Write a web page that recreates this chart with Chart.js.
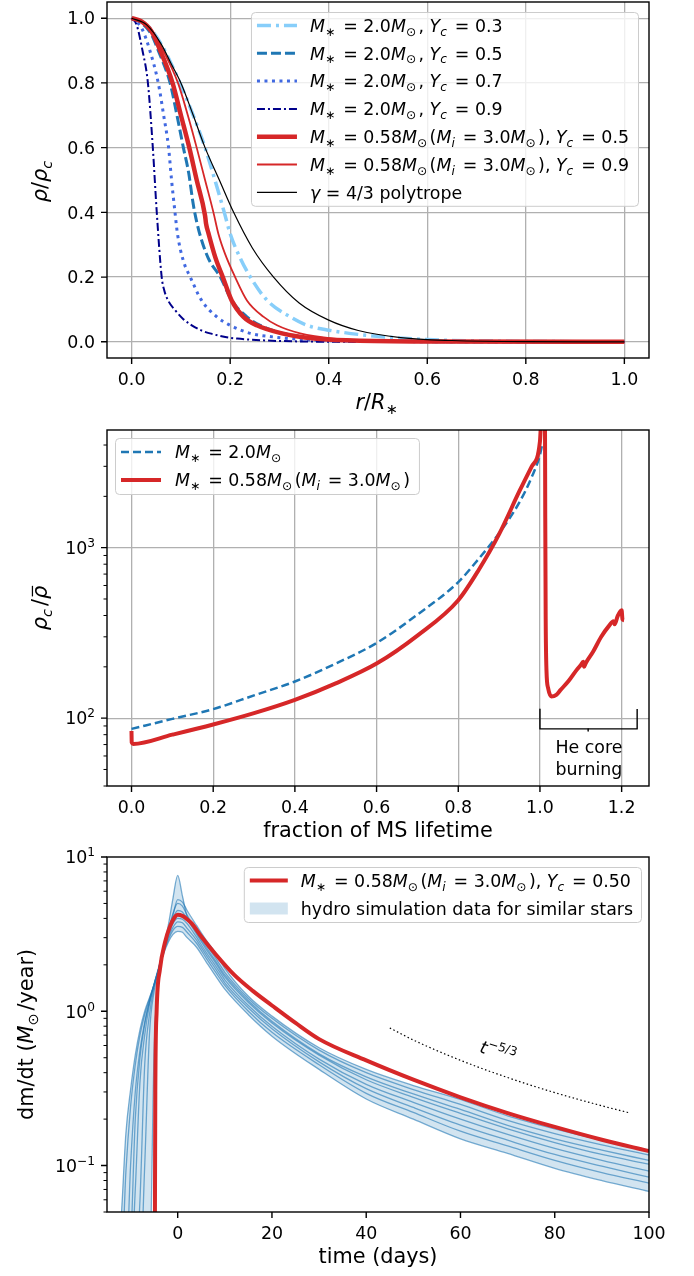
<!DOCTYPE html>
<html>
<head>
<meta charset="utf-8">
<script src="https://cdn.jsdelivr.net/npm/chart.js@4.4.0/dist/chart.umd.min.js"></script>
<style>
html, body { margin: 0; padding: 0; background: #fff; }
#fig { position: relative; width: 694px; height: 1276px; }
canvas { position: absolute; left: 0; }
</style>
</head>
<body>
<div id="fig">
  <canvas id="c1" width="694" height="420" style="top:0px"></canvas>
  <canvas id="c2" width="694" height="424" style="top:420px"></canvas>
  <canvas id="c3" width="694" height="432" style="top:844px"></canvas>
</div>
<script>
// ---- panel 1: density profiles rho/rho_c vs r/R* ----
var lbR    = [0, 0.03, 0.06, 0.08, 0.098, 0.125, 0.149, 0.169, 0.188, 0.2, 0.22, 0.241, 0.275, 0.322, 0.356, 0.4, 0.478, 0.6, 0.75, 1.0];
var lbRho  = [1.0, 0.98, 0.92, 0.86, 0.80, 0.70, 0.60, 0.50, 0.40, 0.334, 0.26, 0.20, 0.128, 0.077, 0.051, 0.036, 0.02, 0.007, 0.002, 0];
var dashR   = [0, 0.02, 0.04, 0.054, 0.078, 0.092, 0.105, 0.116, 0.124, 0.128, 0.137, 0.155, 0.18, 0.203, 0.234, 0.261, 0.308, 0.376, 0.5, 0.7, 1.0];
var dashRho = [1.0, 0.985, 0.95, 0.90, 0.80, 0.70, 0.60, 0.52, 0.435, 0.40, 0.34, 0.26, 0.20, 0.128, 0.077, 0.051, 0.026, 0.01, 0.002, 0.0003, 0];
var dotR   = [0, 0.02, 0.037, 0.054, 0.065, 0.075, 0.081, 0.088, 0.093, 0.105, 0.119, 0.142, 0.173, 0.2, 0.241, 0.288, 0.356, 0.45, 0.6, 1.0];
var dotRho = [1.0, 0.97, 0.90, 0.80, 0.70, 0.60, 0.50, 0.40, 0.334, 0.25, 0.20, 0.128, 0.077, 0.051, 0.026, 0.015, 0.006, 0.002, 0.0005, 0];
var navyR   = [0, 0.01, 0.022, 0.033, 0.043, 0.051, 0.061, 0.066, 0.075, 0.088, 0.105, 0.122, 0.14, 0.159, 0.19, 0.214, 0.275, 0.35, 0.5, 1.0];
var navyRho = [1.0, 0.98, 0.90, 0.80, 0.60, 0.40, 0.20, 0.16, 0.125, 0.098, 0.07, 0.051, 0.036, 0.026, 0.015, 0.01, 0.004, 0.001, 0, 0];
var redR   = [0, 0.02, 0.04, 0.058, 0.083, 0.1, 0.117, 0.132, 0.149, 0.151, 0.156, 0.17, 0.185, 0.203, 0.227, 0.254, 0.305, 0.37, 0.45, 0.6, 1.0];
var redRho = [1.0, 0.99, 0.96, 0.90, 0.80, 0.70, 0.60, 0.50, 0.39, 0.365, 0.335, 0.26, 0.20, 0.128, 0.077, 0.051, 0.026, 0.01, 0.004, 0.001, 0];
var thinR   = [0, 0.02, 0.04, 0.064, 0.094, 0.114, 0.132, 0.149, 0.166, 0.176, 0.19, 0.21, 0.234, 0.268, 0.295, 0.342, 0.41, 0.5, 0.65, 1.0];
var thinRho = [1.0, 0.99, 0.965, 0.90, 0.80, 0.70, 0.60, 0.50, 0.40, 0.334, 0.27, 0.20, 0.128, 0.077, 0.051, 0.026, 0.01, 0.004, 0.001, 0];
var polyR   = [0, 0.03, 0.06, 0.08, 0.1, 0.125, 0.149, 0.178, 0.207, 0.245, 0.288, 0.34, 0.4, 0.46, 0.546, 0.65, 0.8, 1.0];
var polyRho = [1.0, 0.98, 0.92, 0.86, 0.80, 0.70, 0.60, 0.50, 0.40, 0.29, 0.20, 0.12, 0.067, 0.035, 0.013, 0.004, 0.0005, 0];

// ---- panel 2: rho_c / rho_bar vs fraction of MS lifetime ----
var fracB = [0, 0.1, 0.2, 0.3, 0.4, 0.5, 0.6, 0.7, 0.8, 0.85, 0.9, 0.95, 0.98, 1.0, 1.006];
var ratioB = [86.5, 99, 113, 136, 164, 209, 276, 405, 628, 860, 1215, 1850, 2600, 3500, 4100];
var fracR = [0, 0.0005, 0.004, 0.1, 0.2, 0.3, 0.4, 0.5, 0.6, 0.7, 0.8, 0.85, 0.9, 0.95, 0.98, 1.0, 1.004, 1.008, 1.012, 1.013, 1.014, 1.016, 1.02, 1.028, 1.04, 1.05, 1.07, 1.09, 1.1, 1.106, 1.108, 1.112, 1.13, 1.15, 1.17, 1.18, 1.183, 1.19, 1.2, 1.202, 1.206];
var ratioR = [84, 72, 70.6, 80, 91.8, 107, 128, 160, 209, 305, 492, 740, 1200, 2150, 3000, 4200, 6500, 9000, 9000, 1500, 400, 190, 150, 134, 137, 146, 165, 192, 205, 214, 200, 210, 245, 300, 350, 370, 355, 395, 430, 380, 375];
var bracketX = [1.0, 1.0, 1.238, 1.238];
var bracketY = [113, 86.5, 86.5, 113];

// ---- panel 3: fallback rate vs time ----
var redT = [-4.9, -4.83, -4.75, -4.47, -3.77, -2.7, -1.64, -0.57, 0, 1, 2, 3, 5, 8, 12, 16, 20, 25, 30, 40, 50, 60, 70, 80, 90, 100];
var redRate = [0.02, 0.05, 0.3, 1.0, 1.87, 2.79, 3.55, 4.1, 4.22, 4.15, 3.95, 3.7, 3.05, 2.35, 1.72, 1.35, 1.09, 0.84, 0.66, 0.48, 0.36, 0.277, 0.219, 0.178, 0.147, 0.124];
var hydroT = [-13, -12, -11, -10, -9, -8, -7, -6, -5, -4, -3, -2, -1, 0, 1, 2, 4, 6, 8, 10, 15, 20, 30, 40, 50, 60, 70, 80, 90, 100];
var hydro1 = [0.02, 0.045, 0.16, 0.31, 0.52, 0.76, 1.0, 1.22, 1.48, 1.85, 2.4, 3.2, 4.2, 5.3, 5.1, 4.5, 3.6, 2.9, 2.4, 1.9, 1.25, 0.93, 0.58, 0.42, 0.33, 0.268, 0.21, 0.173, 0.146, 0.126];
var hydro2 = [0.02, 0.02, 0.02, 0.1, 0.3, 0.56, 0.85, 1.15, 1.5, 1.9, 2.6, 3.6, 5.4, 7.6, 5.6, 4.1, 3.38, 2.7, 2.22, 1.79, 1.21, 0.90, 0.56, 0.40, 0.311, 0.249, 0.196, 0.161, 0.136, 0.117];
var hydro3 = [0.02, 0.02, 0.09, 0.24, 0.45, 0.7, 0.95, 1.2, 1.5, 1.9, 2.5, 3.3, 4.3, 5.0, 4.8, 4.2, 3.25, 2.61, 2.13, 1.72, 1.17, 0.86, 0.53, 0.376, 0.291, 0.231, 0.182, 0.149, 0.126, 0.108];
var hydro4 = [0.02, 0.02, 0.02, 0.03, 0.2, 0.5, 0.82, 1.15, 1.5, 1.9, 2.5, 3.2, 4.0, 4.5, 4.4, 3.95, 3.16, 2.53, 2.07, 1.67, 1.14, 0.84, 0.52, 0.36, 0.277, 0.218, 0.173, 0.141, 0.118, 0.102];
var hydro5 = [0.02, 0.02, 0.02, 0.02, 0.07, 0.35, 0.7, 1.1, 1.5, 1.95, 2.5, 3.1, 3.7, 4.0, 3.95, 3.7, 3.02, 2.42, 1.98, 1.60, 1.09, 0.80, 0.49, 0.336, 0.257, 0.20, 0.159, 0.129, 0.108, 0.092];
var hydro6 = [0.02, 0.02, 0.02, 0.02, 0.02, 0.06, 0.45, 0.95, 1.45, 1.9, 2.45, 3.0, 3.5, 3.8, 3.75, 3.45, 2.89, 2.32, 1.89, 1.53, 1.05, 0.77, 0.47, 0.315, 0.238, 0.183, 0.146, 0.118, 0.099, 0.084];
var hydro7 = [0.02, 0.02, 0.02, 0.02, 0.02, 0.02, 0.1, 0.7, 1.35, 1.9, 2.4, 2.9, 3.35, 3.55, 3.5, 3.25, 2.76, 2.22, 1.80, 1.47, 1.0, 0.73, 0.45, 0.294, 0.221, 0.167, 0.134, 0.108, 0.09, 0.077];
var hydro8 = [0.02, 0.02, 0.02, 0.02, 0.02, 0.02, 0.02, 0.02, 0.55, 1.85, 2.35, 2.8, 3.15, 3.3, 3.25, 3.0, 2.6, 2.10, 1.70, 1.39, 0.95, 0.69, 0.42, 0.27, 0.20, 0.149, 0.12, 0.096, 0.08, 0.068];
var slopeT = [45, 50, 60, 70, 80, 90, 96];
var slopeRate = [0.78, 0.651, 0.481, 0.372, 0.297, 0.244, 0.219];

// ---- ticks ----
var topTicks = [0, 0.2, 0.4, 0.6, 0.8, 1.0];
var midXTicks = [0, 0.2, 0.4, 0.6, 0.8, 1.0, 1.2];
var midYMajor = [100, 1000];
var midYMinor = [40, 50, 60, 70, 80, 90, 200, 300, 400, 500, 600, 700, 800, 900, 2000, 3000, 4000];
var botXTicks = [0, 20, 40, 60, 80, 100];
var botYMajor = [0.1, 1, 10];
var botYMinor = [0.05, 0.06, 0.07, 0.08, 0.09, 0.2, 0.3, 0.4, 0.5, 0.6, 0.7, 0.8, 0.9, 2, 3, 4, 5, 6, 7, 8, 9];

var FS = 17.4;   // tick + legend font
var FL = 20.8;   // axis label font
var FAM = '"DejaVu Sans"';
Chart.defaults.font.family = 'DejaVu Sans';

// line styles
var ST = {
  lb:   { c: '#87cefa', w: 3.5, d: [14, 5, 3, 5] },
  dash: { c: '#1f77b4', w: 3, d: [10, 4] },
  dot:  { c: '#4169e1', w: 3, d: [3, 4.5] },
  navy: { c: '#00008b', w: 2, d: [8, 3, 2, 3] },
  red:  { c: '#d62728', w: 4.5, d: [] },
  thin: { c: '#d62728', w: 1.8, d: [] },
  poly: { c: '#000000', w: 1.2, d: [] },
  mB:   { c: '#1f77b4', w: 2.5, d: [8, 4] },
  mR:   { c: '#d62728', w: 4, d: [] },
  hyd:  { c: 'rgba(31,119,180,0.6)', w: 1.3, d: [] },
  slope:{ c: '#000000', w: 1.2, d: [1.5, 2.5] },
  brk:  { c: '#000000', w: 1.4, d: [] }
};
var bandColor = 'rgba(31,119,180,0.2)';

function pts(xs, ys) { return xs.map(function (x, i) { return { x: x, y: ys[i] }; }); }
function line(xs, ys, st, order, straight) {
  return {
    data: pts(xs, ys), showLine: true, borderColor: st.c, borderWidth: st.w, borderDash: st.d,
    pointRadius: 0, pointHoverRadius: 0, fill: false, borderJoinStyle: 'round',
    cubicInterpolationMode: straight ? 'default' : 'monotone', tension: 0, clip: 0, order: order
  };
}

// ---- rich text (i = italic, b = subscript, p = superscript, o = overbar) ----
function segFont(st, size) {
  var small = st.indexOf('b') >= 0 || st.indexOf('p') >= 0;
  return (st.indexOf('i') >= 0 ? 'italic ' : '') + (small ? size * 0.7 : size) + 'px ' + FAM;
}
function segAdvance(ctx, s, size) {
  var st = s[1] || '';
  ctx.font = segFont(st, size);
  return ctx.measureText(s[0]).width + (st.indexOf('b') >= 0 ? size * 0.14 : 0);
}
function richWidth(ctx, segs, size) {
  var w = 0;
  segs.forEach(function (s) { w += segAdvance(ctx, s, size); });
  return w;
}
function drawRich(ctx, segs, x, y, size, align) {
  var w = richWidth(ctx, segs, size);
  var cx = align === 'center' ? x - w / 2 : (align === 'right' ? x - w : x);
  ctx.textAlign = 'left';
  ctx.textBaseline = 'alphabetic';
  segs.forEach(function (s) {
    var st = s[1] || '';
    var adv = segAdvance(ctx, s, size);
    var dy = st.indexOf('b') >= 0 ? size * 0.22 : (st.indexOf('p') >= 0 ? -size * 0.4 : 0);
    ctx.fillText(s[0], cx, y + dy);
    if (st.indexOf('o') >= 0) {
      var tw = ctx.measureText(s[0]).width;
      ctx.save();
      ctx.strokeStyle = ctx.fillStyle; ctx.lineWidth = size * 0.06;
      ctx.beginPath(); ctx.moveTo(cx + tw * 0.2, y - size * 0.7); ctx.lineTo(cx + tw * 1.0, y - size * 0.7); ctx.stroke();
      ctx.restore();
    }
    cx += adv;
  });
}

// ---- axes decorations ----
function frame(ctx, a) {
  ctx.strokeStyle = '#000'; ctx.lineWidth = 1.4; ctx.setLineDash([]);
  ctx.strokeRect(a.left, a.top, a.right - a.left, a.bottom - a.top);
}
function xTicks(ctx, a, sx, vals, len, lw) {
  ctx.strokeStyle = '#000'; ctx.lineWidth = lw; ctx.beginPath();
  vals.forEach(function (v) { var p = sx.getPixelForValue(v); ctx.moveTo(p, a.bottom); ctx.lineTo(p, a.bottom + len); });
  ctx.stroke();
}
function yTicks(ctx, a, sy, vals, len, lw) {
  ctx.strokeStyle = '#000'; ctx.lineWidth = lw; ctx.beginPath();
  vals.forEach(function (v) { var p = sy.getPixelForValue(v); ctx.moveTo(a.left, p); ctx.lineTo(a.left - len, p); });
  ctx.stroke();
}
function linLabels(ctx, a, sy, vals) {
  ctx.fillStyle = '#000';
  vals.forEach(function (v) {
    drawRich(ctx, [[v.toFixed(1)]], a.left - 12, sy.getPixelForValue(v) + FS * 0.36, FS, 'right');
  });
}
function logLabels(ctx, a, sy, vals) {
  ctx.fillStyle = '#000';
  vals.forEach(function (v) {
    var e = Math.round(Math.log10(v));
    var lab = e < 0 ? '\u2212' + (-e) : String(e);
    drawRich(ctx, [['10'], [lab, 'p']], a.left - 12, sy.getPixelForValue(v) + FS * 0.36, FS, 'right');
  });
}
function xTitle(ctx, a, segs, y) { ctx.fillStyle = '#000'; drawRich(ctx, segs, (a.left + a.right) / 2, y, FL, 'center'); }
function yTitle(ctx, a, segs, x) {
  ctx.save(); ctx.fillStyle = '#000';
  ctx.translate(x, (a.top + a.bottom) / 2); ctx.rotate(-Math.PI / 2);
  drawRich(ctx, segs, 0, 0, FL, 'center');
  ctx.restore();
}
function legend(ctx, a, side, rows, o) {
  var maxW = 0;
  rows.forEach(function (r) { maxW = Math.max(maxW, richWidth(ctx, r.segs, FS)); });
  var w = o.tx + maxW + o.padR;
  var x = side === 'right' ? a.right - o.mx - w : a.left + o.mx;
  var y = a.top + o.my;
  var h = o.row0 * 2 + (rows.length - 1) * o.rowH;
  ctx.save();
  ctx.beginPath(); ctx.roundRect(x + 0.5, y + 0.5, w, h, 4);
  ctx.fillStyle = 'rgba(255,255,255,0.8)'; ctx.fill();
  ctx.strokeStyle = '#cccccc'; ctx.lineWidth = 1; ctx.stroke();
  rows.forEach(function (r, i) {
    var cy = y + o.row0 + i * o.rowH;
    if (r.patch) {
      ctx.fillStyle = r.patch; ctx.fillRect(x + o.s0, cy - 6, o.s1 - o.s0, 12);
    } else {
      ctx.strokeStyle = r.st.c; ctx.lineWidth = r.st.w; ctx.setLineDash(r.st.d);
      ctx.beginPath(); ctx.moveTo(x + o.s0, cy); ctx.lineTo(x + o.s1, cy); ctx.stroke();
      ctx.setLineDash([]);
    }
    ctx.fillStyle = '#000';
    drawRich(ctx, r.segs, x + o.tx, cy + FS * 0.36, FS, 'left');
  });
  ctx.restore();
}

// label pieces
var EQ = ' = ';
var Mstar = [['M', 'i'], ['\u2217', 'b'], [EQ]];
var Msun = [['M', 'i'], ['\u2299', 'b']];
function yc(v) { return [[', '], ['Y', 'i'], ['c', 'ib'], [EQ + v]]; }
var lowMass = Mstar.concat([['0.58']], Msun, [['(']], [['M', 'i'], ['i', 'ib'], [EQ + '3.0']], Msun, [[')']]);
function two(v) { return Mstar.concat([['2.0']], Msun, yc(v)); }

var topRows = [
  { st: ST.lb, segs: two('0.3') },
  { st: ST.dash, segs: two('0.5') },
  { st: ST.dot, segs: two('0.7') },
  { st: ST.navy, segs: two('0.9') },
  { st: ST.red, segs: lowMass.concat(yc('0.5')) },
  { st: ST.thin, segs: lowMass.concat(yc('0.9')) },
  { st: ST.poly, segs: [['\u03b3', 'i'], [EQ + '4/3 polytrope']] }
];
var midRows = [
  { st: ST.mB, segs: Mstar.concat([['2.0']], Msun) },
  { st: ST.mR, segs: lowMass }
];
var botRows = [
  { st: ST.mR, segs: lowMass.concat(yc('0.50')) },
  { patch: bandColor, segs: [['hydro simulation data for similar stars']] }
];

var extras = {
  c1: function (chart, ctx, a, sx, sy) {
    frame(ctx, a);
    xTicks(ctx, a, sx, topTicks, 6, 1.4);
    yTicks(ctx, a, sy, topTicks, 6, 1.4);
    linLabels(ctx, a, sy, topTicks);
    legend(ctx, a, 'right', topRows, { mx: 11, my: 10, row0: 13.5, rowH: 27.8, s0: 6, s1: 46, tx: 59, padR: 9 });
    xTitle(ctx, a, [['r', 'i'], ['/'], ['R', 'i'], ['\u2217', 'b']], a.bottom + 51);
    yTitle(ctx, a, [['\u03c1', 'i'], ['/'], ['\u03c1', 'i'], ['c', 'ib']], 47);
  },
  c2: function (chart, ctx, a, sx, sy) {
    frame(ctx, a);
    xTicks(ctx, a, sx, midXTicks, 6, 1.4);
    yTicks(ctx, a, sy, midYMajor, 6, 1.4);
    yTicks(ctx, a, sy, midYMinor, 3.5, 1);
    logLabels(ctx, a, sy, midYMajor);
    legend(ctx, a, 'left', midRows, { mx: 8, my: 8, row0: 14, rowH: 28, s0: 6, s1: 46, tx: 60, padR: 9 });
    ctx.fillStyle = '#000';
    drawRich(ctx, [['He core']], sx.getPixelForValue(1.12), sy.getPixelForValue(67.7) + FS * 0.36, FS, 'center');
    drawRich(ctx, [['burning']], sx.getPixelForValue(1.12), sy.getPixelForValue(50.4) + FS * 0.36, FS, 'center');
    xTitle(ctx, a, [['fraction of MS lifetime']], a.bottom + 51);
    yTitle(ctx, a, [['\u03c1', 'i'], ['c', 'ib'], ['/'], ['\u03c1', 'io']], 47);
  },
  c3: function (chart, ctx, a, sx, sy) {
    frame(ctx, a);
    xTicks(ctx, a, sx, botXTicks, 6, 1.4);
    yTicks(ctx, a, sy, botYMajor, 6, 1.4);
    yTicks(ctx, a, sy, botYMinor, 3.5, 1);
    logLabels(ctx, a, sy, botYMajor);
    legend(ctx, a, 'right', botRows, { mx: 8, my: 10, row0: 13.5, rowH: 28, s0: 6, s1: 44, tx: 57, padR: 8 });
    ctx.save();
    ctx.fillStyle = '#000';
    ctx.translate(sx.getPixelForValue(68), sy.getPixelForValue(0.55));
    ctx.rotate(17 * Math.PI / 180);
    drawRich(ctx, [['t', 'i'], ['\u22125/3', 'p']], 0, FS * 0.36, FS, 'center');
    ctx.restore();
    xTitle(ctx, a, [['time (days)']], a.bottom + 51);
    yTitle(ctx, a, [['dm/dt ('], ['M', 'i'], ['\u2299', 'b'], ['/year)']], 33);
  }
};

Chart.register({
  id: 'figExtras',
  afterDatasetsDraw: function (chart) {
    var fn = extras[chart.canvas.id];
    if (fn) {
      chart.ctx.save();
      fn(chart, chart.ctx, chart.chartArea, chart.scales.x, chart.scales.y);
      chart.ctx.restore();
    }
  }
});

var tickFont = { family: 'DejaVu Sans', size: FS };
function xAxis(min, max, ticks, h, fmt, grid) {
  return {
    type: 'linear', min: min, max: max,
    afterBuildTicks: function (s) { s.ticks = ticks.map(function (v) { return { value: v }; }); },
    afterFit: function (s) { s.height = h; },
    ticks: { callback: fmt, font: tickFont, color: '#000', padding: 12, maxRotation: 0, minRotation: 0, autoSkip: false },
    grid: { display: grid, color: '#b0b0b0', lineWidth: 1.3, drawTicks: false },
    border: { display: false }
  };
}
function yAxis(type, min, max, ticks, grid) {
  return {
    type: type, min: min, max: max,
    afterBuildTicks: function (s) { s.ticks = ticks.map(function (v) { return { value: v }; }); },
    afterFit: function (s) { s.width = 107; },
    ticks: { display: false },
    grid: { display: grid, color: '#b0b0b0', lineWidth: 1.3, drawTicks: false },
    border: { display: false }
  };
}
function baseOptions(padTop, scales) {
  return {
    responsive: false, animation: false, devicePixelRatio: 1, events: [],
    layout: { padding: { top: padTop, right: 45, left: 0, bottom: 0 } },
    plugins: { legend: { display: false }, tooltip: { enabled: false } },
    scales: scales
  };
}
var f1 = function (v) { return v.toFixed(1); };

new Chart(document.getElementById('c1'), {
  type: 'scatter',
  data: { datasets: [
    line(lbR, lbRho, ST.lb, 7),
    line(dashR, dashRho, ST.dash, 6),
    line(dotR, dotRho, ST.dot, 5),
    line(navyR, navyRho, ST.navy, 4),
    line(redR, redRho, ST.red, 3),
    line(thinR, thinRho, ST.thin, 2),
    line(polyR, polyRho, ST.poly, 1)
  ] },
  options: baseOptions(2, {
    x: xAxis(-0.05, 1.05, topTicks, 62, f1, true),
    y: yAxis('linear', -0.05, 1.05, topTicks, true)
  })
});

new Chart(document.getElementById('c2'), {
  type: 'scatter',
  data: { datasets: [
    line(fracB, ratioB, ST.mB, 3),
    line(fracR, ratioR, ST.mR, 2),
    line(bracketX, bracketY, ST.brk, 1, true),
    line([1.118, 1.118], [86.5, 84], ST.brk, 1, true)
  ] },
  options: baseOptions(10, {
    x: xAxis(-0.06, 1.267, midXTicks, 58, f1, true),
    y: yAxis('logarithmic', 40, 4900, midYMajor, true)
  })
});

var hydroLines = [hydro1, hydro2, hydro3, hydro4, hydro5, hydro6, hydro7, hydro8];
var bandTop = hydroT.map(function (t, i) { return Math.max.apply(null, hydroLines.map(function (l) { return l[i]; })); });
var bandLow = hydroT.map(function (t, i) { return Math.min.apply(null, hydroLines.map(function (l) { return l[i]; })); });
var bandUpper = line(hydroT, bandTop, { c: 'rgba(0,0,0,0)', w: 0, d: [] }, 10);
bandUpper.fill = '+1';
bandUpper.backgroundColor = bandColor;
var bandLower = line(hydroT, bandLow, { c: 'rgba(0,0,0,0)', w: 0, d: [] }, 11);
var ds3 = [bandUpper, bandLower];
hydroLines.forEach(function (l) { ds3.push(line(hydroT, l, ST.hyd, 5)); });
ds3.push(line(redT, redRate, ST.mR, 2));
ds3.push(line(slopeT, slopeRate, ST.slope, 1));

new Chart(document.getElementById('c3'), {
  type: 'scatter',
  data: { datasets: ds3 },
  options: baseOptions(13, {
    x: xAxis(-15, 100, botXTicks, 64, function (v) { return String(v); }, false),
    y: yAxis('logarithmic', 0.05, 10, botYMajor, false)
  })
});
</script>
</body>
</html>
